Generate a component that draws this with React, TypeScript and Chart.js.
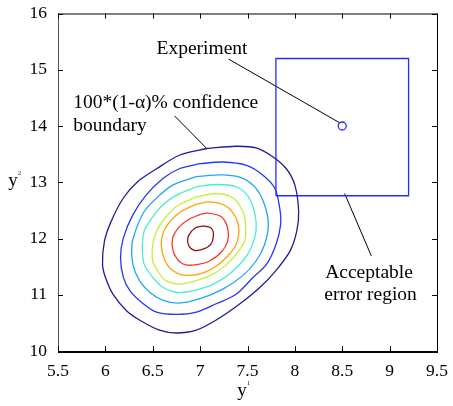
import { useEffect, useRef } from "react";
import { Chart, registerables } from "chart.js";

Chart.register(...registerables);

// Axis ranges / ticks
const xMin = 5.5, xMax = 9.5, xStep = 0.5;
const yMin = 10, yMax = 16, yStep = 1;

// Contour levels (outer -> inner)
const c1x = [7.07, 7.38, 7.59, 7.77, 7.91, 8.0, 8.04, 8.02, 7.95, 7.8, 7.63, 7.42, 7.17, 6.96, 6.75, 6.57, 6.36, 6.22, 6.08, 6.0, 5.97, 5.99, 6.06, 6.19, 6.34, 6.54, 6.78];
const c1y = [13.6, 13.64, 13.61, 13.45, 13.24, 12.95, 12.48, 12.13, 11.78, 11.43, 11.13, 10.84, 10.55, 10.37, 10.32, 10.37, 10.55, 10.72, 11.01, 11.31, 11.54, 11.95, 12.3, 12.72, 13.01, 13.24, 13.48];

const c2x = [7.0, 7.24, 7.49, 7.66, 7.79, 7.84, 7.85, 7.8, 7.7, 7.56, 7.38, 7.17, 6.96, 6.75, 6.54, 6.4, 6.26, 6.19, 6.16, 6.19, 6.29, 6.43, 6.61, 6.78];
const c2y = [13.33, 13.36, 13.3, 13.13, 12.89, 12.54, 12.25, 11.89, 11.54, 11.31, 11.01, 10.84, 10.69, 10.65, 10.69, 10.84, 11.07, 11.31, 11.66, 12.01, 12.42, 12.77, 13.07, 13.24];

const c3x = [6.96, 7.24, 7.45, 7.59, 7.68, 7.72, 7.68, 7.59, 7.45, 7.24, 7.0, 6.78, 6.61, 6.47, 6.36, 6.29, 6.28, 6.33, 6.41, 6.54, 6.71];
const c3y = [13.1, 13.13, 13.07, 12.89, 12.6, 12.25, 11.89, 11.6, 11.34, 11.1, 10.93, 10.85, 10.9, 11.04, 11.25, 11.54, 11.89, 12.19, 12.48, 12.72, 12.95];

const c4x = [6.96, 7.17, 7.38, 7.51, 7.58, 7.59, 7.54, 7.45, 7.31, 7.14, 6.92, 6.75, 6.61, 6.5, 6.41, 6.39, 6.41, 6.49, 6.59, 6.75];
const c4y = [12.92, 12.96, 12.92, 12.74, 12.42, 12.13, 11.84, 11.6, 11.37, 11.19, 11.07, 11.04, 11.13, 11.31, 11.54, 11.84, 12.13, 12.36, 12.57, 12.77];

const c5x = [6.96, 7.17, 7.35, 7.45, 7.48, 7.47, 7.38, 7.28, 7.14, 6.96, 6.78, 6.64, 6.56, 6.5, 6.5, 6.54, 6.63, 6.75];
const c5y = [12.74, 12.8, 12.72, 12.48, 12.25, 11.95, 11.72, 11.54, 11.37, 11.25, 11.19, 11.25, 11.4, 11.6, 11.89, 12.13, 12.36, 12.57];

const c6x = [6.96, 7.1, 7.28, 7.38, 7.41, 7.38, 7.29, 7.17, 7.0, 6.82, 6.71, 6.63, 6.59, 6.61, 6.68, 6.8];
const c6y = [12.61, 12.65, 12.57, 12.36, 12.13, 11.89, 11.69, 11.51, 11.37, 11.35, 11.43, 11.6, 11.87, 12.1, 12.3, 12.48];

const c7x = [7.0, 7.08, 7.22, 7.29, 7.29, 7.22, 7.1, 6.98, 6.85, 6.76, 6.71, 6.71, 6.77, 6.87];
const c7y = [12.43, 12.45, 12.39, 12.19, 11.95, 11.75, 11.6, 11.54, 11.53, 11.63, 11.81, 12.01, 12.19, 12.33];

const c8x = [6.96, 7.03, 7.12, 7.14, 7.11, 7.03, 6.94, 6.88, 6.87, 6.91];
const c8y = [12.2, 12.22, 12.18, 12.04, 11.89, 11.81, 11.79, 11.87, 12.01, 12.13];

const contourColors = ["#1e1e96", "#2238f5", "#1ea6ff", "#46eecb", "#c4f03c", "#ffa300", "#ff3428", "#8c1212"];

// Acceptable error region (rectangle corners)
const regionX = [7.8, 9.2, 9.2, 7.8, 7.8];
const regionY = [12.76, 12.76, 15.2, 15.2, 12.76];

// Experiment point
const experimentX = [8.5];
const experimentY = [14.0];

// Annotation leader lines
const leaderExperimentX = [7.3, 8.47];
const leaderExperimentY = [15.19, 14.06];
const leaderBoundaryX = [6.73, 7.07];
const leaderBoundaryY = [14.18, 13.6];
const leaderRegionX = [8.525, 8.807];
const leaderRegionY = [12.8, 11.69];

// Annotation texts
const notes = [
  { text: "Experiment", x: 7.02, y: 15.38, align: "center" },
  { text: "100*(1-\u03b1)% confidence", x: 5.66, y: 14.42, align: "left" },
  { text: "boundary", x: 5.66, y: 14.01, align: "left" },
  { text: "Acceptable", x: 8.32, y: 11.39, align: "left" },
  { text: "error region", x: 8.31, y: 11.0, align: "left" },
];

const SERIF = '"Liberation Serif", "Times New Roman", serif';

function pts(xs: number[], ys: number[], close: boolean) {
  const p = xs.map((x, i) => ({ x, y: ys[i] }));
  if (close) p.push({ ...p[0] });
  return p;
}

const framePlugin = {
  id: "framePlugin",
  afterDatasetsDraw(chart: any) {
    const { ctx, scales } = chart;
    const xs = scales.x, ys = scales.y;
    ctx.save();
    ctx.fillStyle = "#000";
    ctx.font = `19.5px ${SERIF}`;
    ctx.textBaseline = "middle";
    for (const n of notes) {
      ctx.textAlign = n.align as CanvasTextAlign;
      ctx.fillText(n.text, xs.getPixelForValue(n.x), ys.getPixelForValue(n.y));
    }
    ctx.restore();
  },
  afterDraw(chart: any) {
    const { ctx, chartArea: ca, scales } = chart;
    const xs = scales.x, ys = scales.y;
    ctx.save();
    ctx.lineWidth = 1;
    ctx.strokeStyle = "#000";
    ctx.beginPath();
    ctx.moveTo(ca.left, ca.top + 0.5);
    ctx.lineTo(ca.right, ca.top + 0.5);
    ctx.moveTo(ca.right + 0.5, ca.top);
    ctx.lineTo(ca.right + 0.5, ca.bottom);
    ctx.stroke();
    ctx.strokeStyle = "#555";
    ctx.beginPath();
    ctx.moveTo(ca.left + 0.5, ca.top);
    ctx.lineTo(ca.left + 0.5, ca.bottom);
    ctx.stroke();
    ctx.strokeStyle = "#000";
    ctx.lineWidth = 2;
    ctx.beginPath();
    ctx.moveTo(ca.left, ca.bottom + 1);
    ctx.lineTo(ca.right + 1, ca.bottom + 1);
    ctx.stroke();
    ctx.lineWidth = 1;
    ctx.strokeStyle = "#000";
    const tl = 5;
    ctx.beginPath();
    for (const t of xs.ticks) {
      const px = Math.round(xs.getPixelForValue(t.value)) + 0.5;
      ctx.moveTo(px, ca.bottom);
      ctx.lineTo(px, ca.bottom - tl);
      ctx.moveTo(px, ca.top);
      ctx.lineTo(px, ca.top + tl);
    }
    for (const t of ys.ticks) {
      const py = Math.round(ys.getPixelForValue(t.value)) + 0.5;
      ctx.moveTo(ca.left, py);
      ctx.lineTo(ca.left + tl, py);
      ctx.moveTo(ca.right, py);
      ctx.lineTo(ca.right - tl, py);
    }
    ctx.stroke();
    ctx.fillStyle = "#000";
    ctx.textAlign = "center";
    ctx.textBaseline = "alphabetic";
    ctx.font = `19px ${SERIF}`;
    const cx = (ca.left + ca.right) / 2;
    ctx.fillText("y", cx - 5.5, 396);
    ctx.fillText("y", 13, 186);
    ctx.font = `6px ${SERIF}`;
    ctx.fillText("1", cx + 1, 385);
    ctx.fillText("2", 19.5, 175);
    ctx.restore();
  },
};

const fmt = (v: any) => String(Number(v));

export default function App() {
  const ref = useRef<HTMLCanvasElement | null>(null);
  useEffect(() => {
    if (!ref.current) return;
    const contours = [
      [c1x, c1y], [c2x, c2y], [c3x, c3y], [c4x, c4y],
      [c5x, c5y], [c6x, c6y], [c7x, c7y], [c8x, c8y],
    ];
    const datasets: any[] = contours.map(([xs, ys], i) => ({
      data: pts(xs, ys, true),
      showLine: true,
      borderColor: contourColors[i],
      borderWidth: 1.3,
      pointRadius: 0,
      tension: 0.3,
      fill: false,
    }));
    datasets.push({
      data: pts(regionX, regionY, false),
      showLine: true,
      borderColor: "#2a2aff",
      borderWidth: 1.3,
      pointRadius: 0,
      tension: 0,
    });
    const lines = [
      [leaderExperimentX, leaderExperimentY],
      [leaderBoundaryX, leaderBoundaryY],
      [leaderRegionX, leaderRegionY],
    ];
    for (const [xs, ys] of lines) {
      datasets.push({
        data: pts(xs, ys, false),
        showLine: true,
        borderColor: "#000",
        borderWidth: 1,
        pointRadius: 0,
        tension: 0,
      });
    }
    datasets.push({
      data: pts(experimentX, experimentY, false),
      showLine: false,
      pointRadius: 4,
      pointBorderWidth: 1.3,
      pointBorderColor: "#2a2aff",
      pointBackgroundColor: "#fff",
    });

    const chart = new Chart(ref.current, {
      type: "scatter",
      data: { datasets },
      options: {
        animation: false,
        responsive: false,
        layout: { padding: { left: 0, top: 10, right: 16, bottom: 0 } },
        plugins: { legend: { display: false }, tooltip: { enabled: false } },
        scales: {
          x: {
            type: "linear",
            min: xMin,
            max: xMax,
            grid: { display: false },
            border: { display: false },
            ticks: {
              stepSize: xStep,
              color: "#000",
              font: { family: SERIF, size: 17.5 },
              padding: 2,
              maxRotation: 0,
              callback: fmt,
            },
            afterFit(scale: any) {
              scale.height = 55;
            },
          },
          y: {
            type: "linear",
            min: yMin,
            max: yMax,
            grid: { display: false },
            border: { display: false },
            ticks: {
              stepSize: yStep,
              color: "#000",
              font: { family: SERIF, size: 17.5 },
              padding: 3,
              callback: fmt,
            },
            afterFit(scale: any) {
              scale.width = 58;
            },
          },
        },
      },
      plugins: [framePlugin],
    });
    return () => chart.destroy();
  }, []);
  return (
    <div style={{ position: "fixed", left: 0, top: 0, width: 453, height: 406, background: "#fff" }}>
      <canvas ref={ref} width={453} height={406} />
    </div>
  );
}
